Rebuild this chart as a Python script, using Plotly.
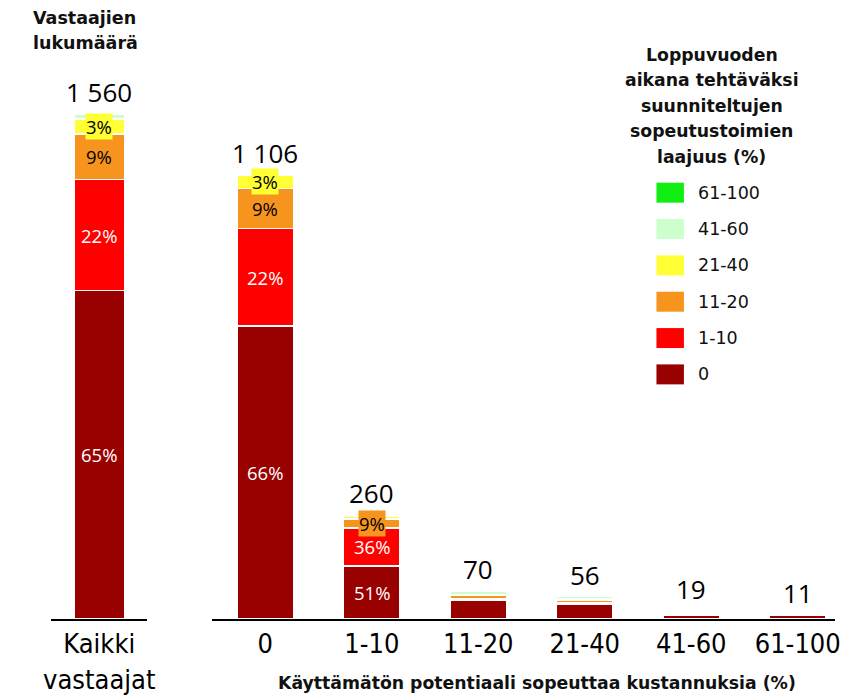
import plotly.graph_objects as go

# ---- data ----
all_label = "Kaikki<br>vastaajat"
all_total = 1560
all_pct = [65, 22, 9, 3, 1, 0]

groups = ["0", "1-10", "11-20", "21-40", "41-60", "61-100"]
group_totals = [1106, 260, 70, 56, 19, 11]

series = ["0", "1-10", "11-20", "21-40", "41-60", "61-100"]
colors = ["#990000", "#FF0000", "#F7941E", "#FFFF33", "#CCFFCC", "#11EE11"]
pct_0 = [66, 51, 68, 66, 52, 85]
pct_1_10 = [22, 36, 5, 6, 12, 5]
pct_11_20 = [9, 9, 10, 12, 12, 5]
pct_21_40 = [3, 2, 4, 8, 12, 5]
pct_41_60 = [0, 1, 13, 8, 12, 0]
pct_61_100 = [0, 1, 0, 0, 0, 0]
group_pcts = [pct_0, pct_1_10, pct_11_20, pct_21_40, pct_41_60, pct_61_100]

title_left = ["Vastaajien", "lukumäärä"]
legend_title = ["Loppuvuoden", "aikana tehtäväksi", "suunniteltujen", "sopeutustoimien", "laajuus (%)"]
xaxis_title = "Käyttämätön potentiaali sopeuttaa kustannuksia (%)"

# ---- layout constants ----
W, H = 843, 695
MB = 75
PH = H - MB  # plot height in px (margin top 0)
NARROW = "Liberation Sans Narrow, DejaVu Sans Condensed, Arial Narrow, sans-serif"
LBL = "Open Sans, Noto Sans, sans-serif"
TAH = "DejaVu Sans, Verdana, sans-serif"


def py(p):
    return (PH - p) / PH


fig = go.Figure()
for i, name in enumerate(series):
    fig.add_trace(go.Bar(
        x=[all_label], y=[all_total * all_pct[i] / 100], name=name,
        marker=dict(color=colors[i], line=dict(color="white", width=1.5)),
        xaxis="x", yaxis="y", showlegend=False, hoverinfo="skip"))
    fig.add_trace(go.Bar(
        x=groups, y=[t * p / 100 for t, p in zip(group_totals, group_pcts[i])], name=name,
        marker=dict(color=colors[i], line=dict(color="white", width=1.5)),
        xaxis="x2", yaxis="y2", showlegend=False, hoverinfo="skip"))

ann = []


def add_bar_labels(xv, total, pcts, xref, yref):
    base = 0
    for i, p in enumerate(pcts):
        seg = total * p / 100
        if p >= 3 and total >= 100:
            a = dict(x=xv, y=base + seg / 2, xref=xref, yref=yref, text=f"{p}%",
                     showarrow=False, font=dict(family=LBL, size=18.5,
                                                color="white" if i < 2 else "black"))
            if i >= 2:
                a["bgcolor"] = colors[i]
                a["borderpad"] = 0
            ann.append(a)
        base += seg
    ann.append(dict(x=xv, y=total, xref=xref, yref=yref, yshift=22,
                    text=f"{total:,}".replace(",", " "), showarrow=False,
                    font=dict(family=LBL, size=26, color="black")))


add_bar_labels(all_label, all_total, all_pct, "x", "y")
for j, g in enumerate(groups):
    add_bar_labels(g, group_totals[j], [gp[j] for gp in group_pcts], "x2", "y2")

# title at top left
for k, t in enumerate(title_left):
    ann.append(dict(x=23 / W, y=py(18 + 25.5 * k), xref="paper", yref="paper", text=f"<b>{t}</b>",
                    xanchor="left", yanchor="middle", showarrow=False,
                    font=dict(family=TAH, size=17.5, color="#111111")))

# legend title
for k, t in enumerate(legend_title):
    ann.append(dict(x=717.5 / W, y=py(55 + 25.5 * k), xref="paper", yref="paper", text=f"<b>{t}</b>",
                    xanchor="center", yanchor="middle", showarrow=False,
                    font=dict(family=TAH, size=17.3, color="#111111")))

# legend items (top: 61-100 ... bottom: 0)
shapes = []
for k, idx in enumerate(reversed(range(len(series)))):
    cy = 193 + 36.4 * k
    shapes.append(dict(type="rect", xref="paper", yref="paper",
                       x0=661 / W, x1=689 / W, y0=py(cy + 10), y1=py(cy - 10),
                       fillcolor=colors[idx], line=dict(width=0)))
    ann.append(dict(x=701 / W, y=py(cy), xref="paper", yref="paper", text=series[idx],
                    xanchor="left", yanchor="middle", showarrow=False,
                    font=dict(family=TAH, size=17.5, color="#111111")))

# x axis title
ann.append(dict(x=539 / W, y=py(684), xref="paper", yref="paper", text=f"<b>{xaxis_title}</b>",
                xanchor="center", yanchor="middle", showarrow=False,
                font=dict(family=TAH, size=17.3, color="#111111")))

axis_common = dict(showline=True, linecolor="black", linewidth=2, ticks="", showgrid=False,
                   zeroline=False, tickfont=dict(family=NARROW, size=27, color="black"),
                   type="category", fixedrange=True)

fig.update_layout(
    width=W, height=H, barmode="stack", bargap=0.47,
    margin=dict(l=0, r=0, t=0, b=MB),
    paper_bgcolor="white", plot_bgcolor="white",
    showlegend=False,
    xaxis=dict(domain=[44 / W, 142 / W], range=[-0.5, 0.5], anchor="y", **axis_common),
    yaxis=dict(domain=[0, 1], range=[0, all_total * PH / 506], visible=False, anchor="x"),
    xaxis2=dict(domain=[208 / W, 1], range=[-0.5, 5.35], anchor="y2", **axis_common),
    yaxis2=dict(domain=[0, 1], range=[0, 1542], visible=False, anchor="x2"),
    annotations=ann, shapes=shapes,
)

fig.write_html("out.html", config={"displayModeBar": False},
               post_script="document.body.style.margin='0';document.body.style.overflow='hidden';")
